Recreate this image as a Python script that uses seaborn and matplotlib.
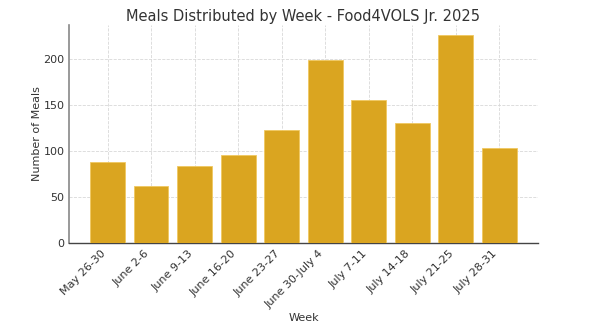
import matplotlib
matplotlib.use("Agg")
import matplotlib.pyplot as plt
import seaborn as sns
import pandas as pd

weeks = ["May 26-30", "June 2-6", "June 9-13", "June 16-20", "June 23-27",
         "June 30-July 4", "July 7-11", "July 14-18", "July 21-25", "July 28-31"]
meals = [88, 62, 83, 95, 123, 198, 155, 130, 225, 103]

sns.set_style("whitegrid", {"grid.linestyle": "--", "grid.color": "#d0d0d0"})
plt.rcParams['font.family'] = ['DejaVu Sans']

df = pd.DataFrame({"Week": weeks, "Meals": meals})

fig = plt.figure(figsize=(5.98, 3.35), dpi=100)
ax = fig.add_axes([0.115, 0.275, 0.785, 0.65])
sns.barplot(data=df, x="Week", y="Meals", color="#DAA520", saturation=1,
            width=0.8, edgecolor="#f0c860", linewidth=0.6, ax=ax, zorder=3)
ax.set_axisbelow(True)
ax.set_xlim(-0.89, 9.89)
ax.set_ylim(0, 236.25)
ax.set_yticks([0, 50, 100, 150, 200])
ax.grid(True, axis="both", linestyle="--", color="#d8d8d8", linewidth=0.6)
ax.set_title("Meals Distributed by Week - Food4VOLS Jr. 2025", fontsize=10.5,
             color="#333333", pad=3)
ax.set_xlabel("Week", fontsize=8, color="#333333", labelpad=2)
ax.set_ylabel("Number of Meals", fontsize=8, color="#333333", labelpad=1)
ax.set_xticks(range(len(weeks)))
ax.set_xticklabels(weeks, rotation=45, ha="right")
ax.tick_params(axis="both", labelsize=8, colors="#333333")
ax.tick_params(axis="x", length=3, width=0.6, color="#333333", pad=1)
ax.tick_params(axis="y", length=0, pad=3)
for s in ["top", "right"]:
    ax.spines[s].set_visible(False)
ax.spines["left"].set_color("#888888")
ax.spines["left"].set_linewidth(1.2)
ax.spines["bottom"].set_color("#444444")
ax.spines["bottom"].set_linewidth(1.0)

fig.savefig("out.png", dpi=100)
